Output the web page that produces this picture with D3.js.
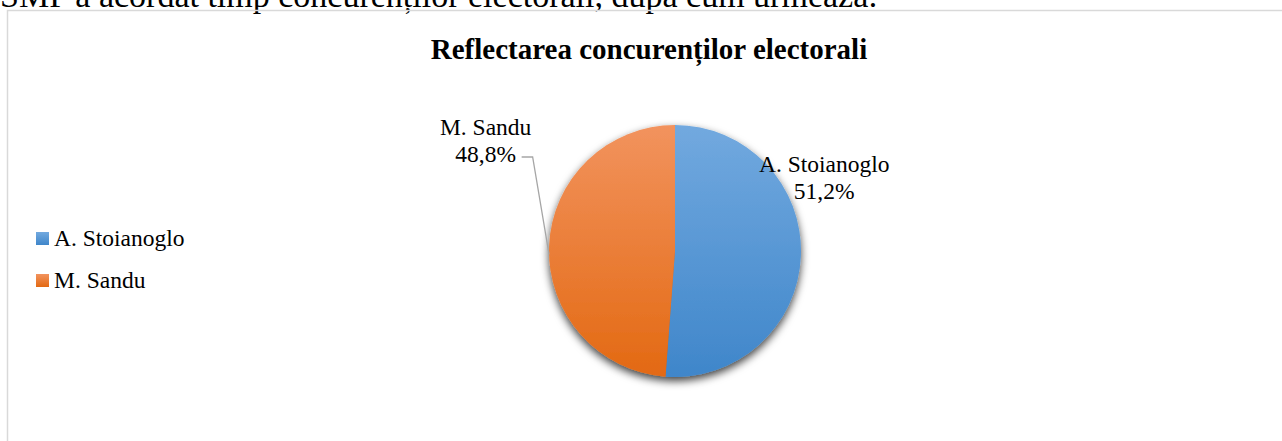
<!DOCTYPE html>
<html>
<head>
<meta charset="utf-8">
<script src="https://cdn.jsdelivr.net/npm/d3@7"></script>
<style>
  body { margin: 0; background: #fff; }
  text { font-family: "Liberation Serif", "Times New Roman", serif; fill: #000; }
</style>
</head>
<body>
<script>
// data
var candidates = ["A. Stoianoglo", "M. Sandu"];
var shares = [51.2, 48.8];
var labelTexts = ["51,2%", "48,8%"];

var width = 1282, height = 441;

var svg = d3.select("body").append("svg")
    .attr("width", width)
    .attr("height", height);

// document text above the chart (clipped by the window, as in the source)
svg.append("text")
    .attr("x", 0)
    .attr("y", 7)
    .style("font-size", "34px")
    .text("SMP a acordat timp concurenților electorali, după cum urmează:");

// chart border
svg.append("rect")
    .attr("x", 7.5)
    .attr("y", 10.5)
    .attr("width", 1400)
    .attr("height", 600)
    .attr("fill", "none")
    .attr("stroke", "#d9d9d9")
    .attr("stroke-width", 1.5);

// title
svg.append("text")
    .attr("x", 649)
    .attr("y", 59)
    .attr("text-anchor", "middle")
    .style("font-size", "29px")
    .style("font-weight", "bold")
    .text("Reflectarea concurenților electorali");

// pie geometry
var cx = 675, cy = 251, radius = 126;
var colors = [["#72a9df", "#3f86ca"], ["#f2935e", "#e36912"]];

var defs = svg.append("defs");
colors.forEach(function(c, i) {
  var gr = defs.append("linearGradient")
      .attr("id", "grad" + i)
      .attr("gradientUnits", "userSpaceOnUse")
      .attr("x1", 0).attr("y1", -radius)
      .attr("x2", 0).attr("y2", radius);
  gr.append("stop").attr("offset", "0%").attr("stop-color", c[0]);
  gr.append("stop").attr("offset", "100%").attr("stop-color", c[1]);
});

var shadow = defs.append("filter")
    .attr("id", "shadow")
    .attr("x", "-20%").attr("y", "-20%")
    .attr("width", "140%").attr("height", "140%");
shadow.append("feDropShadow")
    .attr("dx", 0).attr("dy", 4)
    .attr("stdDeviation", 4)
    .attr("flood-color", "#000")
    .attr("flood-opacity", 0.75);

var pie = d3.pie().sort(null).value(function(d) { return d; });
var arc = d3.arc().innerRadius(0).outerRadius(radius);
var arcs = pie(shares);

var g = svg.append("g")
    .attr("transform", "translate(" + cx + "," + cy + ")");

g.append("g")
    .attr("filter", "url(#shadow)")
  .selectAll("path")
    .data(arcs)
    .enter().append("path")
    .attr("d", arc)
    .attr("fill", function(d, i) { return "url(#grad" + i + ")"; });

// data labels (best fit placement, polar offsets from the pie centre)
var labelPlace = [
  {angle: 63.3, dist: 167},
  {angle: 300.6, dist: 220}
];
var lineH = 27;

arcs.forEach(function(d, i) {
  var p = d3.pointRadial(labelPlace[i].angle * Math.PI / 180, labelPlace[i].dist);
  var t = g.append("text")
      .attr("text-anchor", "middle")
      .attr("x", p[0])
      .attr("y", p[1])
      .style("font-size", "23.5px");
  t.append("tspan").attr("x", p[0]).attr("dy", -4).text(candidates[i]);
  t.append("tspan").attr("x", p[0]).attr("dy", lineH).text(labelTexts[i]);
});

// leader line for M. Sandu
var lp = d3.pointRadial(labelPlace[1].angle * Math.PI / 180, labelPlace[1].dist);
var edge = d3.pointRadial(268.5 * Math.PI / 180, radius);
var ly = lp[1] + 18;
g.append("polyline")
    .attr("points", [[lp[0] + 36, ly], [lp[0] + 47, ly], edge].join(" "))
    .attr("fill", "none")
    .attr("stroke", "#a6a6a6")
    .attr("stroke-width", 1.3);

// legend
var legend = svg.append("g")
    .selectAll("g")
    .data(candidates)
    .enter().append("g")
    .attr("transform", function(d, i) { return "translate(36," + (232 + i * 42) + ")"; });

legend.append("rect")
    .attr("width", 13)
    .attr("height", 13)
    .attr("fill", function(d, i) { return "url(#legGrad" + i + ")"; });

colors.forEach(function(c, i) {
  var lg = defs.append("linearGradient")
      .attr("id", "legGrad" + i)
      .attr("x1", 0).attr("y1", 0)
      .attr("x2", 0).attr("y2", 1);
  lg.append("stop").attr("offset", "0%").attr("stop-color", c[0]);
  lg.append("stop").attr("offset", "100%").attr("stop-color", c[1]);
});

legend.append("text")
    .attr("x", 18)
    .attr("y", 14)
    .style("font-size", "23.5px")
    .text(function(d) { return d; });
</script>
</body>
</html>
